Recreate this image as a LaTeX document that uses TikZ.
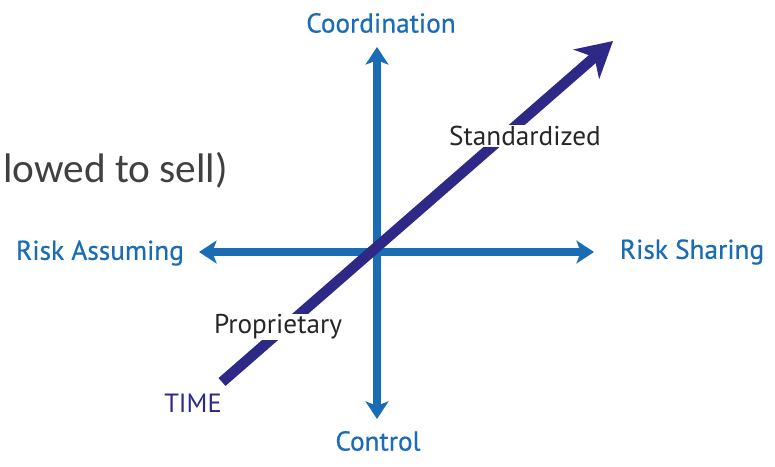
\documentclass[tikz,border=0pt]{standalone}
\usepackage{fontspec}
\setmainfont{PT Sans}
\newfontfamily\calibrifont{Carlito}
\newfontfamily\boldishfont[FakeBold=0.6]{PT Sans}
\usetikzlibrary{arrows.meta}
\definecolor{axisblue}{RGB}{26,108,180}
\definecolor{timepurple}{RGB}{46,40,134}
\definecolor{textgray}{RGB}{64,64,64}
\tikzset{
  axis/.style={axisblue, line width=4.5pt, {Stealth[length=10pt,width=13pt,inset=2.5pt]}-{Stealth[length=10pt,width=13pt,inset=2.5pt]}},
  axislabel/.style={text=axisblue, font=\boldishfont\fontsize{15.5}{18}\selectfont},
  stagelabel/.style={fill=white, inner sep=0.5pt, text=black!85, font=\fontsize{15.5}{18}\selectfont}
}
\begin{document}
\begin{tikzpicture}[x=0.02cm, y=-0.02cm]
            \useasboundingbox (0,0) rectangle (775,467);
            \node[anchor=west, inner sep=0pt, text=textgray, font=\calibrifont\fontsize{23.5}{28}\selectfont] (cut) at (3,170) {lowed to sell)};
            \node[axislabel] (coord) at (381,23) {Coordination};
            \node[axislabel] (control) at (378,441) {Control};
            \node[axislabel] (assume) at (100,253) {Risk Assuming};
            \node[axislabel] (share) at (692,252) {Risk Sharing};
            \coordinate (top) at (377,47);
            \coordinate (bottom) at (377,419);
            \coordinate (left) at (199,252);
            \coordinate (right) at (594,252);
            \draw[axis] (bottom) -- (top);
            \draw[axis] (left) -- (right);
            \node[text=timepurple, font=\fontsize{15}{18}\selectfont] (time) at (193,403) {TIME};
            \coordinate (start) at (222,382);
            \coordinate (tip) at (613,41);
            \draw[timepurple, line width=6pt, -{Stealth[length=20pt,width=22pt,inset=6pt]}] (start) -- (tip);
            \node[stagelabel] (prop) at (278,327) {Proprietary};
            \node[stagelabel] (std) at (525,136) {Standardized};
        \end{tikzpicture}
\end{document}
